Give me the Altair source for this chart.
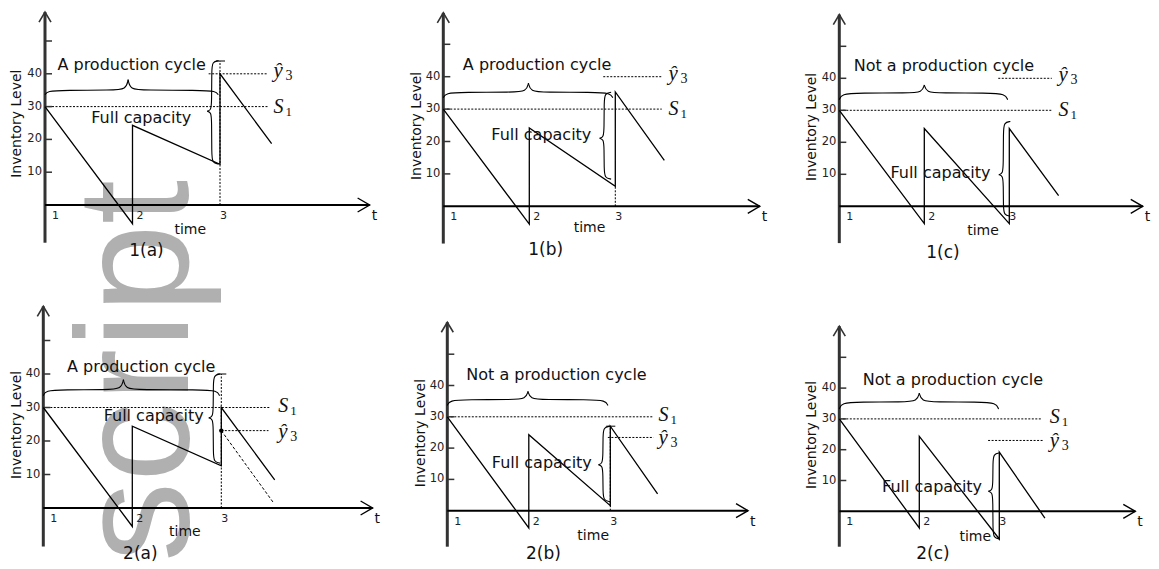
import altair as alt
import pandas as pd

SANS = "DejaVu Sans"
SERIF = "Liberation Serif"

# ---------------- values ----------------
panel_names = ["1(a)", "1(b)", "1(c)", "2(a)", "2(b)", "2(c)"]
cycle_text = ["A production cycle", "A production cycle", "Not a production cycle",
              "A production cycle", "Not a production cycle", "Not a production cycle"]

# inventory level paths: time / level
saw_t = [
    [1, 2, 2, 3, 3, 3.59],
    [1, 2, 2, 3, 3, 3.57],
    [1, 2, 2, 3, 3, 3.58],
    [1, 2, 2, 3, 3, 3.60],
    [1, 2, 2, 3, 3, 3.58],
    [1, 2, 2, 3, 3, 3.57],
]
saw_y = [
    [30, -5.7, 24.3, 12.4, 40.0, 18.7],
    [30, -5.5, 24.2, 6.2, 35.3, 14.2],
    [30, -5.4, 24.3, -5.4, 24.3, 3.3],
    [30, -5.5, 24.4, 12.6, 30.0, 8.4],
    [30, -5.5, 24.3, 1.6, 27.0, 5.4],
    [30, -5.4, 24.3, -9.0, 19.2, -2.2],
]

s1_level = 30
s1_end = [3.55, 3.54, 3.50, 3.55, 3.53, 3.53]
yhat_level = [40, 40, 40, 23.1, 23.4, 23.0]
yhat_from = [2.87, 2.86, 2.87, 3.0, 2.97, 2.86]
yhat_to = [3.55, 3.54, 3.50, 3.53, 3.53, 3.55]
label_t = [3.61, 3.62, 3.58, 3.64, 3.59, 3.63]

guide_top = [43.9, 6.2, None, 40.0, 27.0, None]
guide_cap = [True, False, False, True, True, False]

# 2(a) projected path
proj_t = [3.0, 3.58]
proj_y = [23.1, 1.8]

# horizontal braces
hb_start = [1.0, 1.0, 1.0, 1.0, 1.0, 1.0]
hb_end = [2.98, 2.97, 2.98, 2.98, 2.97, 2.99]
hb_peak = [1.95, 1.99, 2.0, 1.9, 1.99, 2.0]
hb_end_y = [33.6, 33.5, 33.3, 33.5, 33.6, 33.2]
hb_plateau = [35.0, 35.2, 35.4, 35.3, 35.5, 35.5]
hb_tip = [38.2, 38.0, 37.9, 38.3, 38.1, 38.4]

# vertical braces ("Full capacity")
vb_t = [2.905, 2.87, 2.93, 2.91, 2.91, 2.92]
vb_top = [44.0, 35.2, 26.5, 40.0, 27.0, 19.0]
vb_bottom = [12.5, 8.4, -3.1, 13.4, 2.9, -9.0]
vb_cusp = [28.6, 21.0, 9.9, 26.9, 14.7, 6.5]

title_t = [1.99, 2.09, 2.23, 2.10, 2.34, 2.42]
title_y = [42.8, 43.6, 44.0, 42.1, 43.5, 42.7]
full_t = [2.10, 2.14, 2.19, 2.24, 2.16, 2.16]
full_y = [26.5, 22.0, 10.4, 27.4, 15.2, 7.9]
time_t = [2.66, 2.70, 2.69, 2.59, 2.79, 2.70]
time_y = [-7.5, -6.7, -7.8, -7.3, -8.2, -8.3]
cap_t = [2.16, 2.19, 2.22, 2.09, 2.18, 2.17]
cap_y = [-14.0, -13.6, -14.5, -13.8, -13.8, -13.8]

y_ticks = [10, 20, 30, 40, 50]
y_labels = [10, 20, 30, 40]
x_ticks = [1, 2, 3]
inv_level_y = 24.8
axis_bottom = -11.5
axis_top = [58.8, 59.7, 59.9, 60.2, 60.2, 60.1]
x_end = [4.71, 4.68, 4.57, 4.70, 4.69, 4.70]

# ---------------- layout (pixels) ----------------
col_left = [8, 388, 770]
col_w = [380, 382, 381]
row_top = [8, 280]
row_h = [272, 281]
axis_x_px = [45, 443.3, 839.3, 43.3, 447.3, 839.3]
unit_x_px = [87.5, 86, 85, 89, 81.5, 80]
zero_y_px = [202, 203.3, 203.3, 505, 507.7, 508.3]
unit_y_px = [3.28, 3.24, 3.2, 3.35, 3.13, 3.08]
inv_off_px = [28, 26, 27.6, 26.8, 26.6, 27.6]
xlab_off_px = [7, 4, 0]
s_dy_px = [6, 6, 6, 4, 4, 4]
yhat_dy_px = [3, 3, 3, 7, 7, 7]
wm_x_px, wm_y_px = 188, 559


def build(i):
    col, row = i % 3, i // 3
    W, H = col_w[col], row_h[row]
    L = axis_x_px[i] - col_left[col]
    Z = zero_y_px[i] - row_top[row]
    u, v = unit_x_px[i], unit_y_px[i]
    x0 = 1 - L / u
    sx = alt.Scale(domain=[x0, x0 + W / u], nice=False, zero=False)
    sy = alt.Scale(domain=[(Z - H) / v, Z / v], nice=False, zero=False)

    def X(f="x"):
        return alt.X(f"{f}:Q", scale=sx, axis=None)

    def Y(f="y"):
        return alt.Y(f"{f}:Q", scale=sy, axis=None)

    hx = lambda p: p / u
    hy = lambda p: p / v

    def rules(rows, **kw):
        df = pd.DataFrame(rows, columns=["x", "x2", "y", "y2"])
        return alt.Chart(df).mark_rule(**kw).encode(
            x=X("x"), x2=alt.X2("x2:Q"), y=Y("y"), y2=alt.Y2("y2:Q"))

    def texts(rows, **kw):
        df = pd.DataFrame(rows, columns=["x", "y", "label"])
        kw.setdefault("font", SANS)
        kw.setdefault("color", "#111")
        return alt.Chart(df).mark_text(**kw).encode(x=X("x"), y=Y("y"), text="label:N")

    layers = []
    if i == 0:
        wx = x0 + (wm_x_px - col_left[col]) / u
        wy = (Z - (wm_y_px - row_top[row])) / v
        layers.append(texts([(wx, wy, "script")], angle=270, align="left",
                            baseline="alphabetic", fontSize=160,
                            font="Liberation Sans", color="#b0b0b0"))

    # dotted guides
    g = [(1, s1_end[i], s1_level, s1_level),
         (yhat_from[i], yhat_to[i], yhat_level[i], yhat_level[i])]
    if guide_top[i] is not None:
        g.append((3, 3, 0, guide_top[i]))
    layers.append(rules(g, color="black", strokeWidth=1, strokeDash=[2, 1.5]))
    if guide_cap[i]:
        layers.append(rules([(3 - hx(4), 3 + hx(5), guide_top[i], guide_top[i])],
                            color="black", strokeWidth=1))

    # axes
    layers.append(rules([(1, 1, axis_bottom, axis_top[i])], color="#333", strokeWidth=3))
    layers.append(rules([(1, x_end[i], 0, 0)], color="black", strokeWidth=2))
    layers.append(rules([(1, 1 + hx(7), t, t) for t in y_ticks], color="#333", strokeWidth=1.5))
    up = pd.DataFrame({"x": [1], "y": [axis_top[i]]})
    layers.append(alt.Chart(up).mark_point(shape="M-0.6,1L0,0L0.6,1", size=400, filled=False,
                                           color="#333", strokeWidth=1.6, opacity=1)
                  .encode(x=X(), y=Y()))
    rt = pd.DataFrame({"x": [x_end[i]], "y": [0]})
    layers.append(alt.Chart(rt).mark_point(shape="M-1.2,-0.7L0,0L-1.2,0.7", size=400, filled=False,
                                           color="black", strokeWidth=1.4, opacity=1)
                  .encode(x=X(), y=Y()))

    # inventory path
    df = pd.DataFrame({"x": saw_t[i], "y": saw_y[i], "o": list(range(len(saw_t[i])))})
    layers.append(alt.Chart(df).mark_line(color="black", strokeWidth=1.3)
                  .encode(x=X(), y=Y(), order="o:Q"))

    if i == 3:
        layers.append(rules([(proj_t[0], proj_t[1], proj_y[0], proj_y[1])],
                            color="black", strokeWidth=1, strokeDash=[3, 2]))
        dot = pd.DataFrame({"x": [proj_t[0]], "y": [proj_y[0]]})
        layers.append(alt.Chart(dot).mark_circle(size=20, color="black", opacity=1)
                      .encode(x=X(), y=Y()))

    # braces
    pts = []
    ts, te, tp = hb_start[i], hb_end[i], hb_peak[i]
    ye, yl, yt = hb_end_y[i], hb_plateau[i], hb_tip[i]
    left = [(ts, ye), (ts + hx(2), yl - hy(0.8)), (ts + hx(20), yl), (tp - hx(16), yl),
            (tp - hx(2), yl + hy(0.8)), (tp, yt)]
    right = [(te, ye), (te - hx(2), yl - hy(0.8)), (te - hx(20), yl), (tp + hx(16), yl),
             (tp + hx(2), yl + hy(0.8)), (tp, yt)]
    xm, ytp, ybt, yc = vb_t[i], vb_top[i], vb_bottom[i], vb_cusp[i]
    xe, xc, d = xm + hx(7), xm - hx(4.5), hy(10)
    top = [(xe, ytp), (xm + hx(0.6), ytp - hy(1)), (xm, ytp - d), (xm, yc + d),
           (xm - hx(0.6), yc + hy(1)), (xc, yc)]
    bot = [(xe, ybt), (xm + hx(0.6), ybt + hy(1)), (xm, ybt + d), (xm, yc - d),
           (xm - hx(0.6), yc - hy(1)), (xc, yc)]
    for s, seg in enumerate([left, right, top, bot]):
        for k, (a, b) in enumerate(seg):
            pts.append({"x": a, "y": b, "seg": s, "o": k})
    layers.append(alt.Chart(pd.DataFrame(pts)).mark_line(interpolate="basis", color="black",
                                                         strokeWidth=1.1)
                  .encode(x=X(), y=Y(), detail="seg:N", order="o:Q"))

    # texts
    layers.append(texts([(title_t[i], title_y[i], cycle_text[i]),
                         (full_t[i], full_y[i], "Full capacity")],
                        fontSize=16, align="center", baseline="middle"))
    layers.append(texts([(time_t[i], time_y[i], "time")], fontSize=14,
                        align="center", baseline="middle"))
    layers.append(texts([(cap_t[i], cap_y[i], panel_names[i])], fontSize=17,
                        align="center", baseline="middle"))
    layers.append(texts([(x_end[i], 0, "t")], fontSize=14, align="left",
                        baseline="middle", dx=2, dy=11))
    layers.append(texts([(t + hx(o), 0, str(t)) for t, o in zip(x_ticks, xlab_off_px)],
                        fontSize=11, align="left", baseline="middle", dy=11, color="#222"))
    layers.append(texts([(1 - hx(3), t, str(t)) for t in y_labels],
                        fontSize=11.5, align="right", baseline="middle", color="#222"))
    layers.append(texts([(1 - hx(inv_off_px[i]), inv_level_y, "Inventory Level")],
                        fontSize=14, angle=270, align="center", baseline="middle"))

    # math labels
    lt = label_t[i]
    sdy, ydy = s_dy_px[i], yhat_dy_px[i]
    layers.append(texts([(lt, s1_level, "S")], font=SERIF, fontStyle="italic", fontSize=20,
                        align="left", baseline="alphabetic", dy=sdy))
    layers.append(texts([(lt, s1_level, "1")], font=SERIF, fontSize=13,
                        align="left", baseline="alphabetic", dx=12, dy=sdy + 3))
    layers.append(texts([(lt, yhat_level[i], "ŷ")], font=SERIF, fontStyle="italic", fontSize=21,
                        align="left", baseline="alphabetic", dy=ydy))
    layers.append(texts([(lt, yhat_level[i], "3")], font=SERIF, fontSize=14,
                        align="left", baseline="alphabetic", dx=12, dy=ydy + 3))

    return alt.layer(*layers).properties(width=W, height=H)


chart = alt.concat(*[build(i) for i in range(6)], columns=3, spacing=0,
                   bounds="flush", padding=0).configure_view(stroke=None)

chart.save("out.html", embed_options={"renderer": "svg", "actions": False})
